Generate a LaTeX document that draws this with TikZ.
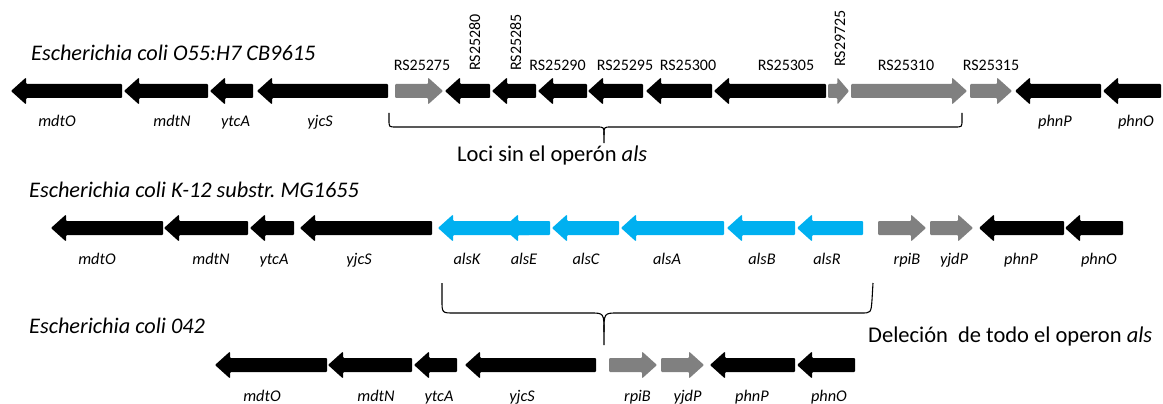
\documentclass[tikz,border=0pt]{standalone}
\usepackage{fontspec}
\setmainfont{Carlito}
\frenchspacing
\definecolor{geneblack}{RGB}{0,0,0}
\definecolor{genegray}{RGB}{128,128,128}
\definecolor{geneblue}{RGB}{0,176,240}
\newcommand\gL[5]{% tip x, end x, y, colour, name
  \pgfmathsetmacro\hl{min(15,0.55*abs(#2-#1))}%
  \fill[#4, rounded corners=1pt] (#1,#3) -- (#1+\hl,#3-13.5) -- (#1+\hl,#3-7) -- (#2,#3-7) -- (#2,#3+7) -- (#1+\hl,#3+7) -- (#1+\hl,#3+13.5) -- cycle;
  \coordinate (#5) at ({(#1+#2)/2},#3);}
\newcommand\gR[5]{% start x, tip x, y, colour, name
  \pgfmathsetmacro\hl{min(15,0.55*abs(#2-#1))}%
  \fill[#4, rounded corners=1pt] (#2,#3) -- (#2-\hl,#3-13.5) -- (#2-\hl,#3-7) -- (#1,#3-7) -- (#1,#3+7) -- (#2-\hl,#3+7) -- (#2-\hl,#3+13.5) -- cycle;
  \coordinate (#5) at ({(#1+#2)/2},#3);}
\tikzset{
  title/.style={anchor=base west, inner sep=0pt, font=\fontsize{22.3}{26}\selectfont\itshape},
  glabel/.style={anchor=base, inner sep=0pt, font=\fontsize{16.3}{19}\selectfont\itshape},
  rslabel/.style={anchor=base, inner sep=0pt, font=\fontsize{16}{19}\selectfont},
  rsvert/.style={anchor=base west, inner sep=0pt, rotate=90, font=\fontsize{16}{19}\selectfont},
  bracetext/.style={anchor=base west, inner sep=0pt, font=\fontsize{22.5}{26}\selectfont},
  bracepath/.style={draw=black, line width=1.1pt}
}
\begin{document}
\begin{tikzpicture}[x=1pt,y=-1pt]
\useasboundingbox (0,0) rectangle (1163,404);
% ---------- Row 1 ----------
\node[title] (t1) at (31,61) {Escherichia coli O55:H7 CB9615};
\gL{11}{122}{91}{geneblack}{a1}
\gL{124}{208}{91}{geneblack}{a2}
\gL{210}{253}{91}{geneblack}{a3}
\gL{257}{388}{91}{geneblack}{a4}
\gR{395}{443}{91}{genegray}{a5}
\gL{445}{490}{91}{geneblack}{a6}
\gL{492}{536}{91}{geneblack}{a7}
\gL{538}{587}{91}{geneblack}{a8}
\gL{588}{643}{91}{geneblack}{a9}
\gL{646}{712}{91}{geneblack}{a10}
\gL{714}{826}{91}{geneblack}{a11}
\gR{828}{849}{91}{genegray}{a12}
\gR{851}{967}{91}{genegray}{a13}
\gR{970}{1012}{91}{genegray}{a14}
\gL{1015}{1101}{91}{geneblack}{a15}
\gL{1103}{1161}{91}{geneblack}{a16}
\node[glabel] (l1) at (57,127) {mdtO};
\node[glabel] (l2) at (172,127) {mdtN};
\node[glabel] (l3) at (235.5,127) {ytcA};
\node[glabel] (l4) at (320,127) {yjcS};
\node[glabel] (l15) at (1055,127) {phnP};
\node[glabel] (l16) at (1136,127) {phnO};
\node[rslabel] (r5) at (422,70.5) {RS25275};
\node[rsvert] (r6) at (480,71) {RS25280};
\node[rsvert] (r7) at (521,71) {RS25285};
\node[rslabel] (r8) at (557.5,70.5) {RS25290};
\node[rslabel] (r9) at (625,70.5) {RS25295};
\node[rslabel] (r10) at (688,70.5) {RS25300};
\node[rslabel] (r11) at (786,70.5) {RS25305};
\node[rsvert] (r12) at (845,67) {RS29725};
\node[rslabel] (r13) at (906,70.5) {RS25310};
\node[rslabel] (r14) at (991,70.5) {RS25315};
% brace 1
\draw[bracepath] (389,113) -- (389,120) .. controls (389,127) .. (396,127) -- (597,127) .. controls (604,127) .. (604,135) -- (604,143);
\draw[bracepath] (604,135) .. controls (604,127) .. (611,127) -- (955,127) .. controls (962,127) .. (962,120) -- (962,113);
\node[bracetext] (b1) at (457,161) {Loci sin el operón \textit{als}};
% ---------- Row 2 ----------
\node[title] (t2) at (29,197) {Escherichia coli K-12 substr. MG1655};
\gL{51}{163}{228}{geneblack}{c1}
\gL{164}{248}{228}{geneblack}{c2}
\gL{250}{294}{228}{geneblack}{c3}
\gL{300}{432}{228}{geneblack}{c4}
\gL{438}{530}{228}{geneblue}{c5}
\gL{503}{550}{228}{geneblue}{c6}
\gL{552}{619}{228}{geneblue}{c7}
\gL{621}{724}{228}{geneblue}{c8}
\gL{727}{795}{228}{geneblue}{c9}
\gL{797}{863}{228}{geneblue}{c10}
\gR{878}{926}{228}{genegray}{c11}
\gR{930}{973}{228}{genegray}{c12}
\gL{979}{1064}{228}{geneblack}{c13}
\gL{1065}{1123}{228}{geneblack}{c14}
\node[glabel] (m1) at (97,264) {mdtO};
\node[glabel] (m2) at (211,264) {mdtN};
\node[glabel] (m3) at (274,264) {ytcA};
\node[glabel] (m4) at (359,264) {yjcS};
\node[glabel] (m5) at (467,264) {alsK};
\node[glabel] (m6) at (524,264) {alsE};
\node[glabel] (m7) at (586,264) {alsC};
\node[glabel] (m8) at (667,264) {alsA};
\node[glabel] (m9) at (762,264) {alsB};
\node[glabel] (m10) at (827,264) {alsR};
\node[glabel] (m11) at (907,264) {rpiB};
\node[glabel] (m12) at (954,264) {yjdP};
\node[glabel] (m13) at (1021,264) {phnP};
\node[glabel] (m14) at (1099,264) {phnO};
% brace 2
\draw[bracepath] (442,283) -- (442,300) .. controls (442,313) .. (454,313) -- (590,313) .. controls (604,313) .. (604,332) -- (604,345);
\draw[bracepath] (604,332) .. controls (604,313) .. (618,313) -- (861,313) .. controls (871,313) .. (872,300) -- (873,283);
\node[bracetext] (b2) at (868,342) {Deleción\ \ de todo el operon \textit{als}};
% ---------- Row 3 ----------
\node[title] (t3) at (29,333) {Escherichia coli 042};
\gL{215}{327}{365}{geneblack}{d1}
\gL{328}{412}{365}{geneblack}{d2}
\gL{414}{457}{365}{geneblack}{d3}
\gL{465}{596}{365}{geneblack}{d4}
\gR{609}{657}{365}{genegray}{d5}
\gR{661}{704}{365}{genegray}{d6}
\gL{710}{795}{365}{geneblack}{d7}
\gL{797}{855}{365}{geneblack}{d8}
\node[glabel] (n1) at (262,401) {mdtO};
\node[glabel] (n2) at (376,401) {mdtN};
\node[glabel] (n3) at (439,401) {ytcA};
\node[glabel] (n4) at (522,401) {yjcS};
\node[glabel] (n5) at (637.5,401) {rpiB};
\node[glabel] (n6) at (687.5,401) {yjdP};
\node[glabel] (n7) at (752,401) {phnP};
\node[glabel] (n8) at (829,401) {phnO};
\end{tikzpicture}
\end{document}
